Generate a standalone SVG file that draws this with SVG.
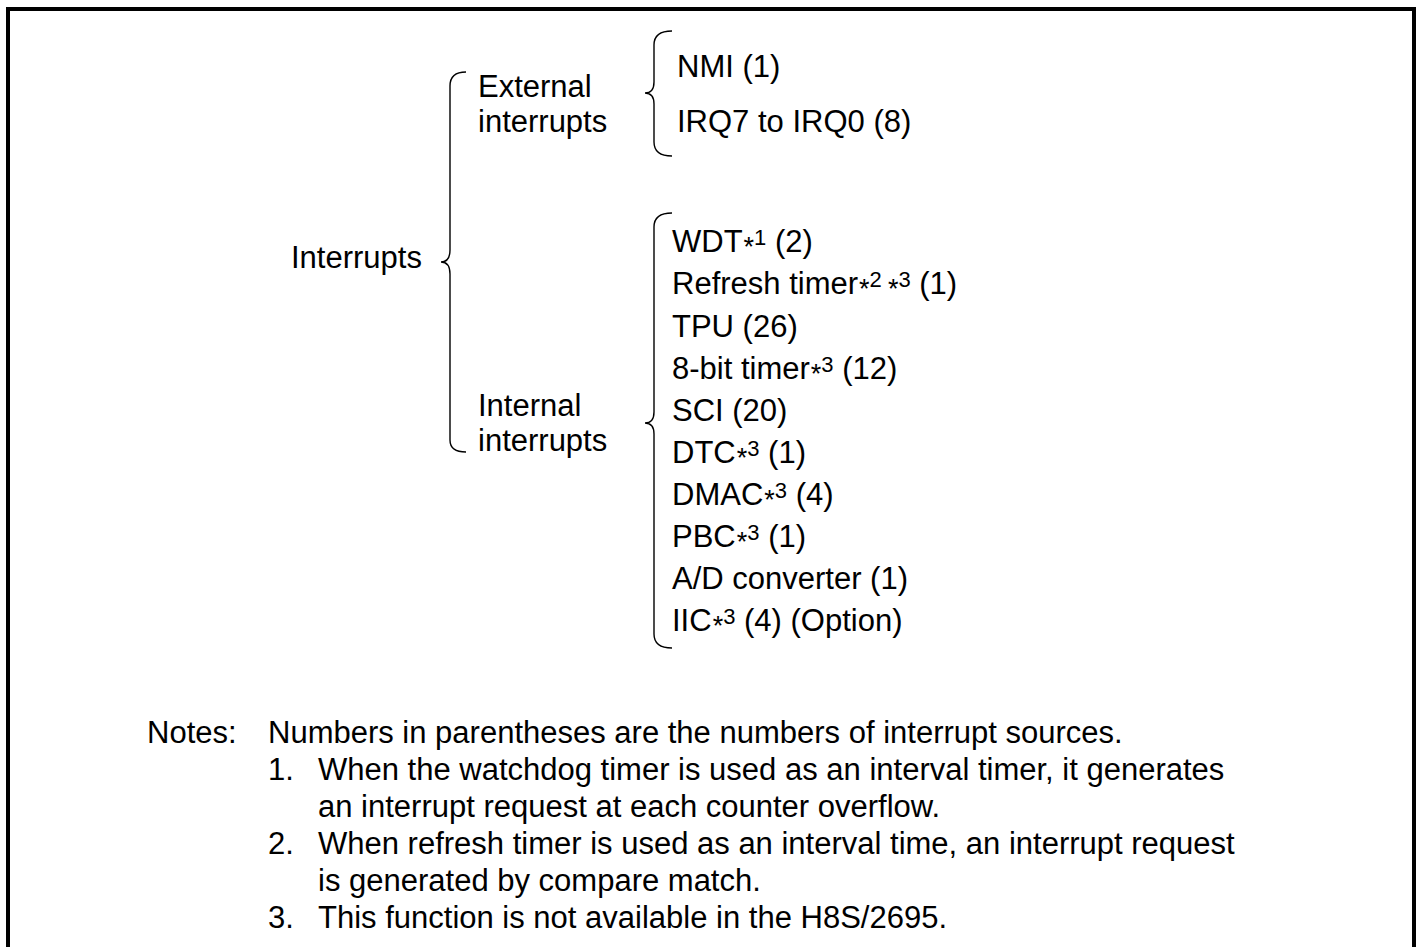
<svg xmlns="http://www.w3.org/2000/svg" width="1417" height="947" viewBox="0 0 1417 947">
<style>
text{font-family:"Liberation Sans",Arial,sans-serif;font-size:31px;fill:#000}
.sup{font-size:22px}
.ast{font-size:27px}
.brace{fill:none;stroke:#000;stroke-width:1.4}
</style>
<rect x="0" y="0" width="1417" height="947" fill="#fff"/>
<rect x="8" y="9" width="1406" height="960" fill="none" stroke="#000" stroke-width="4"/>
<g id="connectors">
<path class="brace" d="M466,72 Q450,72 450,86 L450,250 Q450,262 441,262 Q450,262 450,274 L450,440 Q450,452 466,452"/>
<path class="brace" d="M672,31 Q654,31 654,45 L654,82 Q654,93 645,93 Q654,93 654,104 L654,142 Q654,156 672,156"/>
<path class="brace" d="M672,213 Q654,213 654,227 L654,412 Q654,423 645,423 Q654,423 654,434 L654,634 Q654,648 672,648"/>
</g>
<g id="interrupts"><text x="291" y="268">Interrupts</text></g>
<g id="external"><text x="478" y="97">External</text><text x="478" y="132">interrupts</text></g>
<g id="internal"><text x="478" y="416">Internal</text><text x="478" y="451">interrupts</text></g>
<g id="nmi"><text x="677" y="77">NMI (1)</text></g>
<g id="irq"><text x="677" y="132">IRQ7 to IRQ0 (8)</text></g>
<g id="wdt"><text x="672" y="252">WDT<tspan class="ast" dx="1" dy="4">*</tspan><tspan class="sup" dy="-11">1</tspan><tspan dy="7"> (2)</tspan></text></g>
<g id="refresh"><text x="672" y="294">Refresh timer<tspan class="ast" dx="1" dy="4">*</tspan><tspan class="sup" dy="-11">2 </tspan><tspan class="ast" dy="11">*</tspan><tspan class="sup" dy="-11">3</tspan><tspan dy="7"> (1)</tspan></text></g>
<g id="tpu"><text x="672" y="337">TPU (26)</text></g>
<g id="tmr"><text x="672" y="379">8-bit timer<tspan class="ast" dx="1" dy="4">*</tspan><tspan class="sup" dy="-11">3</tspan><tspan dy="7"> (12)</tspan></text></g>
<g id="sci"><text x="672" y="421">SCI (20)</text></g>
<g id="dtc"><text x="672" y="463">DTC<tspan class="ast" dx="1" dy="4">*</tspan><tspan class="sup" dy="-11">3</tspan><tspan dy="7"> (1)</tspan></text></g>
<g id="dmac"><text x="672" y="505">DMAC<tspan class="ast" dx="1" dy="4">*</tspan><tspan class="sup" dy="-11">3</tspan><tspan dy="7"> (4)</tspan></text></g>
<g id="pbc"><text x="672" y="547">PBC<tspan class="ast" dx="1" dy="4">*</tspan><tspan class="sup" dy="-11">3</tspan><tspan dy="7"> (1)</tspan></text></g>
<g id="adc"><text x="672" y="589">A/D converter (1)</text></g>
<g id="iic"><text x="672" y="631">IIC<tspan class="ast" dx="1" dy="4">*</tspan><tspan class="sup" dy="-11">3</tspan><tspan dy="7"> (4) (Option)</tspan></text></g>
<g id="notes">
<text x="147" y="743">Notes:</text>
<text x="268" y="743">Numbers in parentheses are the numbers of interrupt sources.</text>
<text x="268" y="780">1.</text>
<text x="318" y="780">When the watchdog timer is used as an interval timer, it generates</text>
<text x="318" y="817">an interrupt request at each counter overflow.</text>
<text x="268" y="854">2.</text>
<text x="318" y="854">When refresh timer is used as an interval time, an interrupt request</text>
<text x="318" y="891">is generated by compare match.</text>
<text x="268" y="928">3.</text>
<text x="318" y="928">This function is not available in the H8S/2695.</text>
</g>
</svg>
